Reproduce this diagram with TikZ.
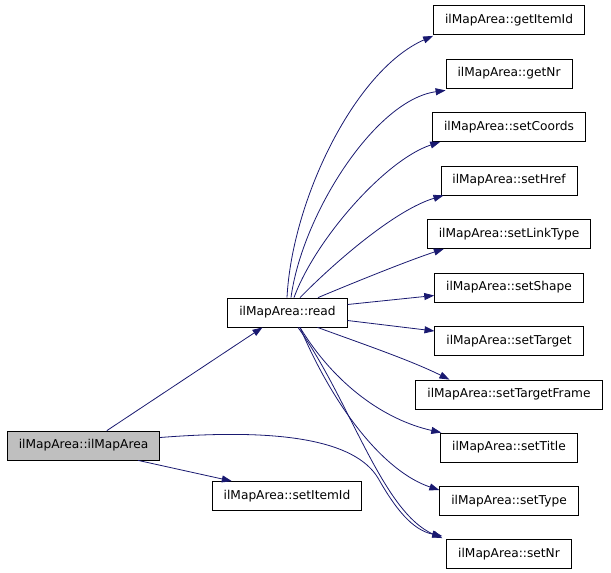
\documentclass[tikz,border=0pt]{standalone}
\usepackage{fontspec}
\setmainfont{DejaVu Sans}
\usetikzlibrary{arrows.meta}
\definecolor{edgeblue}{HTML}{191970}
\begin{document}
\begin{tikzpicture}[x=1pt,y=-1pt,
  fn/.style={draw=black,fill=white,line width=0.8pt,inner xsep=11.5pt,inner ysep=0pt,
    minimum height=29pt,font=\fontsize{12.2}{14}\selectfont,text height=9pt,text depth=2.5pt},
  cur/.style={fn,fill=gray!50},
  edge/.style={draw=edgeblue,line width=0.8pt,-{Triangle[length=10pt,width=7pt]}}]
\useasboundingbox (0,0) rectangle (611,573);
\node[cur] (main) at (83.5,445.5) {ilMapArea::ilMapArea};
\node[fn] (read) at (287.5,312.5) {ilMapArea::read};
\node[fn] (setItemId) at (287,496) {ilMapArea::setItemId};
\node[fn] (getItemId) at (509,20) {ilMapArea::getItemId};
\node[fn] (getNr) at (509,73.5) {ilMapArea::getNr};
\node[fn] (setCoords) at (509,127) {ilMapArea::setCoords};
\node[fn] (setHref) at (509,180.5) {ilMapArea::setHref};
\node[fn] (setLinkType) at (509,234) {ilMapArea::setLinkType};
\node[fn] (setShape) at (509,287.5) {ilMapArea::setShape};
\node[fn] (setTarget) at (509,341) {ilMapArea::setTarget};
\node[fn] (setTargetFrame) at (509,394.5) {ilMapArea::setTargetFrame};
\node[fn] (setTitle) at (509,447.5) {ilMapArea::setTitle};
\node[fn] (setType) at (509,501) {ilMapArea::setType};
\node[fn] (setNr) at (509,554) {ilMapArea::setNr};
\coordinate (mid) at (378,478);
% edges
\path[edge] ([xshift=100pt]main.north west) -- ([xshift=-25pt]read.south);
\path[edge] ([xshift=-22pt]main.south east) -- ([xshift=20pt]setItemId.north west);
\draw[draw=edgeblue,line width=0.8pt] ([yshift=8pt]main.east) .. controls (280,428) and (355,440) .. (mid);
\path[edge] (mid) .. controls (395,508) and (412,530) .. ([xshift=-4pt,yshift=3pt]setNr.north west);
\path[edge] ([xshift=-0.5pt]read.north) .. controls (292,200) and (355,70) .. ([yshift=-1pt]getItemId.south west);
\path[edge] ([xshift=3.5pt]read.north) .. controls (302,215) and (375,100) .. ([yshift=-2pt]getNr.south west);
\path[edge] ([xshift=6.5pt]read.north) .. controls (315,240) and (385,160) .. ([xshift=8pt]setCoords.south west);
\path[edge] ([xshift=12.5pt]read.north) .. controls (335,262) and (395,210) .. ([xshift=3pt]setHref.south west);
\path[edge] ([xshift=30.5pt]read.north) .. controls (360,280) and (410,260) .. ([xshift=17pt]setLinkType.south west);
\path[edge] ([yshift=8pt]read.east) -- ([yshift=-8pt]setShape.west);
\path[edge] ([yshift=-8pt]read.east) -- ([yshift=10pt]setTarget.west);
\path[edge] ([xshift=30pt]read.south) .. controls (360,343) and (410,360) .. ([xshift=34pt]setTargetFrame.north west);
\path[edge] ([xshift=12.5pt]read.south) .. controls (335,385) and (385,420) .. ([xshift=1pt]setTitle.north west);
\path[edge] ([xshift=12.5pt]read.south) .. controls (335,410) and (385,472) .. ([yshift=-4pt]setType.north west);
\path[edge] ([xshift=10.5pt]read.south) .. controls (350,400) and (382,512) .. ([xshift=-4pt,yshift=1pt]setNr.north west);
\end{tikzpicture}
\end{document}
